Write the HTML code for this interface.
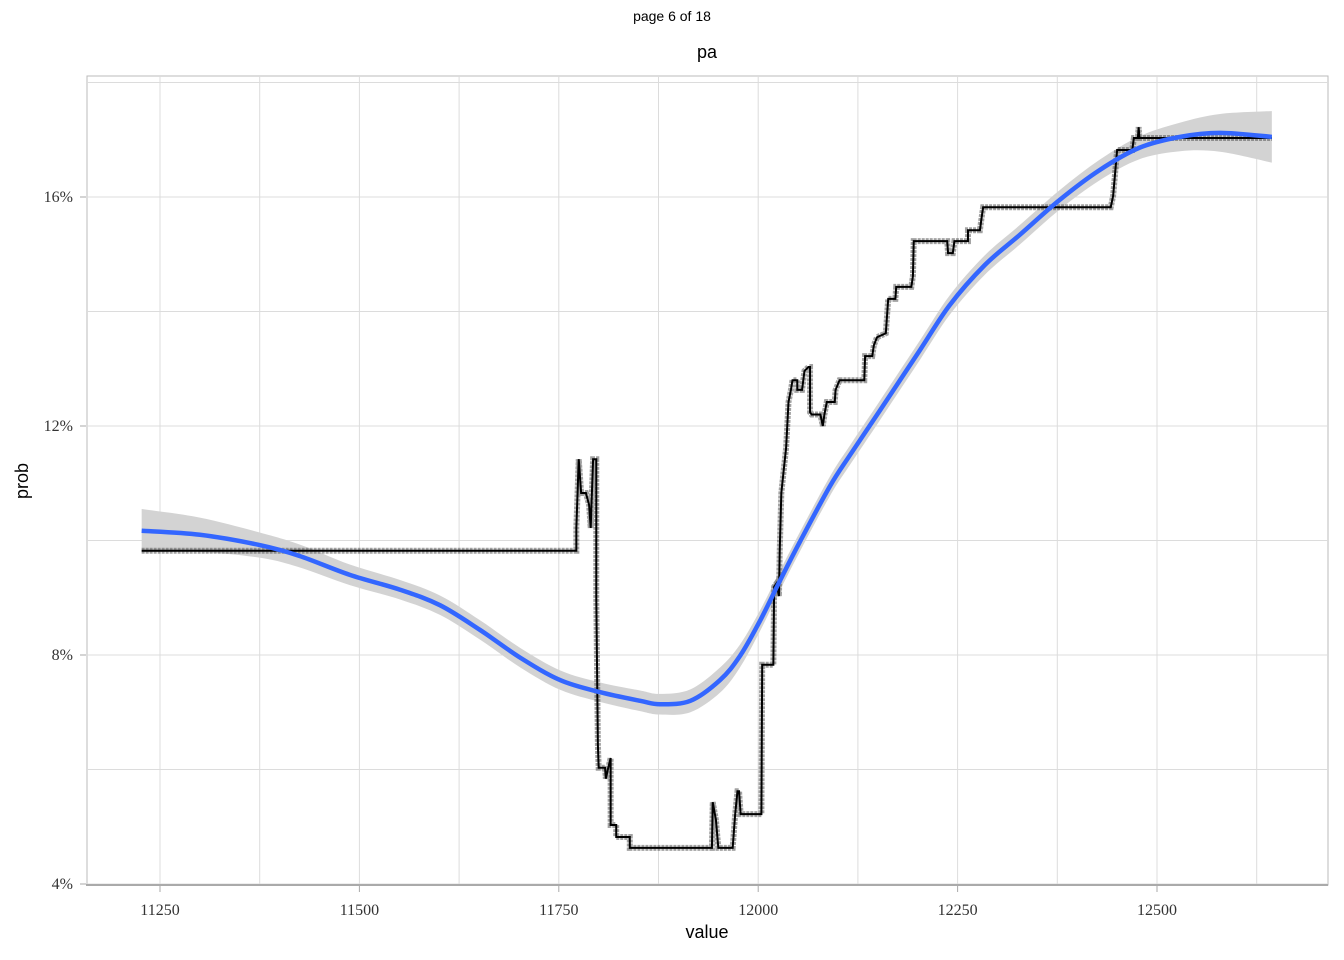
<!DOCTYPE html>
<html><head><meta charset="utf-8"><style>
body{margin:0;background:#fff;}
svg{display:block;}
.tk{font-family:"Liberation Serif",serif;font-size:16px;fill:#333;}
.tt{font-family:"Liberation Sans",sans-serif;}
</style></head><body>
<svg id="chart" width="1344" height="960">
<text class="tt" x="672" y="21" font-size="14" text-anchor="middle">page 6 of 18</text>
<text class="tt" x="707" y="58" font-size="18" text-anchor="middle">pa</text>
<g id="grid"></g>
<g id="marks"></g>
<g id="axes"></g>
<text class="tt" x="707" y="938" font-size="18" text-anchor="middle">value</text>
<text class="tt" x="28" y="481" font-size="18" text-anchor="middle" transform="rotate(-90 28 481)">prob</text>
</svg>
<script>
const xTicks=[11250,11500,11750,12000,12250,12500];
const yTicks=[4,8,12,16];
const stepX=[11227,11772,11772,11775,11778,11784,11788,11790,11793,11797,11797,11799,11800,11808,11809,11812,11815,11815,11822,11822,11839,11839,11942,11943,11947,11950,11968,11971,11974,11976,11978,12004,12005,12019,12020,12023,12026,12027,12029,12032,12035,12038,12041,12043,12049,12049,12055,12058,12063,12065,12065,12067,12078,12081,12083,12086,12096,12097,12102,12133,12134,12143,12145,12149,12160,12161,12163,12172,12173,12192,12194,12195,12237,12238,12244,12246,12263,12263,12278,12280,12282,12442,12445,12450,12469,12471,12476,12477,12478,12644];
const stepY=[9.82,9.82,10.22,11.42,10.83,10.83,10.62,10.22,11.42,11.42,9.01,6.43,6.03,6.03,5.84,6.03,6.2,5.03,5.03,4.82,4.82,4.63,4.63,5.43,5.12,4.63,4.63,5.2,5.62,5.62,5.22,5.22,7.83,7.83,9.19,9.25,9.03,9.83,10.83,11.23,11.62,12.42,12.63,12.8,12.8,12.63,12.63,12.96,13.03,13.03,12.24,12.2,12.2,12.0,12.2,12.42,12.42,12.63,12.8,12.8,13.22,13.22,13.41,13.55,13.62,13.82,14.22,14.22,14.43,14.43,14.62,15.23,15.23,15.02,15.02,15.23,15.23,15.42,15.42,15.63,15.82,15.82,16.02,16.82,16.82,17.03,17.03,17.22,17.03,17.03];
const smX=[11227,11300,11375,11425,11488,11551,11601,11651,11702,11752,11802,11852,11877,11915,11952,11977,12002,12027,12052,12090,12115,12153,12203,12240,12284,12328,12378,12428,12478,12529,12579,12644];
const smY=[10.17,10.1,9.92,9.73,9.4,9.14,8.87,8.44,7.95,7.56,7.35,7.2,7.14,7.2,7.56,7.98,8.59,9.29,9.97,10.95,11.49,12.28,13.33,14.11,14.81,15.34,15.95,16.47,16.86,17.05,17.12,17.05];
const smSE=[0.38,0.3,0.22,0.2,0.18,0.17,0.17,0.17,0.17,0.17,0.17,0.18,0.18,0.2,0.22,0.2,0.18,0.17,0.17,0.17,0.17,0.17,0.17,0.17,0.17,0.17,0.17,0.18,0.2,0.25,0.33,0.45];
const X=v=>160+(v-11250)*0.7976;
const Y=v=>884-(v-4)*57.25;
const NS="http://www.w3.org/2000/svg";
function mk(t,a,p){const e=document.createElementNS(NS,t);for(const k in a)e.setAttribute(k,a[k]);p.appendChild(e);return e;}
function curve(P){let d='M'+P[0][0]+','+P[0][1];for(let i=0;i<P.length-1;i++){const p0=P[Math.max(0,i-1)],p1=P[i],p2=P[i+1],p3=P[Math.min(P.length-1,i+2)];
d+=' C'+(p1[0]+(p2[0]-p0[0])/6)+','+(p1[1]+(p2[1]-p0[1])/6)+' '+(p2[0]-(p3[0]-p1[0])/6)+','+(p2[1]-(p3[1]-p1[1])/6)+' '+p2[0]+','+p2[1];}return d;}
const grid=document.getElementById('grid'),marks=document.getElementById('marks'),axes=document.getElementById('axes');
mk('rect',{x:87,y:76,width:1241,height:809,fill:'none',stroke:'#bbb','stroke-width':1},grid);
for(let v=11250;v<=12625;v+=125){const g=mk('line',{x1:X(v),x2:X(v),y1:76,y2:884,stroke:'#dcdcdc','stroke-width':1},grid);

}
for(let v=4;v<=18;v+=2){const g=mk('line',{x1:87,x2:1328,y1:Y(v),y2:Y(v),stroke:'#dcdcdc','stroke-width':1},grid);

}
const upP=smX.map((x,i)=>[X(x),Y(smY[i]+smSE[i])]),loP=smX.map((x,i)=>[X(x),Y(smY[i]-smSE[i])]).reverse();
const band=mk('path',{d:curve(upP)+' L'+curve(loP).slice(1)+' Z',fill:'#d3d3d3'},marks);


const pts=stepX.map((x,i)=>X(x)+','+Y(stepY[i])).join(' ');
const halo=mk('polyline',{points:pts,fill:'none',stroke:'#555','stroke-width':6,'stroke-opacity':0.55,'stroke-dasharray':'3 1'},marks);


const step=mk('polyline',{points:pts,fill:'none',stroke:'#000','stroke-width':2},marks);


const sm=mk('path',{d:curve(smX.map((x,i)=>[X(x),Y(smY[i])])),fill:'none',stroke:'#3366ff','stroke-width':4.5,'stroke-linejoin':'round'},marks);


const ax=mk('line',{x1:86,x2:1328,y1:885,y2:885,stroke:'#aaa','stroke-width':2},axes);


xTicks.forEach(v=>{mk('line',{x1:X(v),x2:X(v),y1:886,y2:892,stroke:'#aaa'},axes);
const t=mk('text',{x:X(v),y:915,'text-anchor':'middle',class:'tk'},axes);t.textContent=v;

});
yTicks.forEach(v=>{mk('line',{x1:80,x2:86,y1:Y(v),y2:Y(v),stroke:'#aaa'},axes);
const t=mk('text',{x:73,y:Y(v)+5,'text-anchor':'end',class:'tk'},axes);t.textContent=v+'%';

});
</script>
</body></html>
